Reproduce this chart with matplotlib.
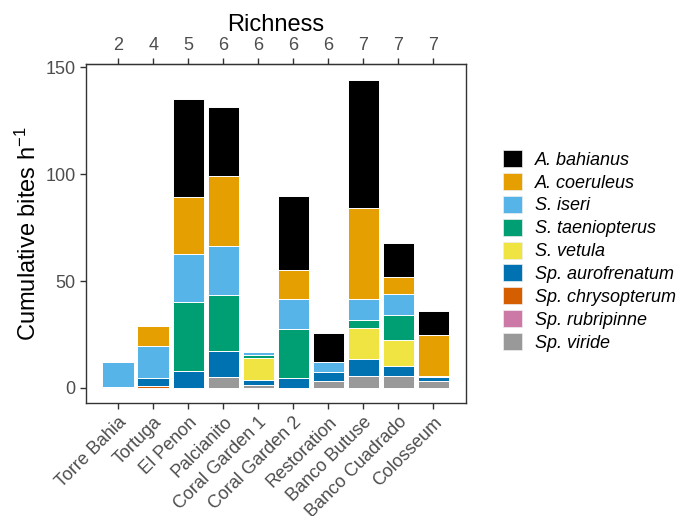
import matplotlib
matplotlib.use("Agg")
import matplotlib.pyplot as plt
from matplotlib.patches import Patch
import numpy as np

plt.rcParams['font.family'] = ['Liberation Sans', 'DejaVu Sans']
plt.rcParams['mathtext.fontset'] = 'custom'
plt.rcParams['mathtext.rm'] = 'Liberation Sans'
plt.rcParams['mathtext.it'] = 'Liberation Sans:italic'

sites = ["Torre Bahia", "Tortuga", "El Penon", "Palcianito", "Coral Garden 1",
         "Coral Garden 2", "Restoration", "Banco Butuse", "Banco Cuadrado", "Colosseum"]
richness = ["2", "4", "5", "6", "6", "6", "6", "7", "7", "7"]

# stacked from the bottom up
species = ["Sp. viride", "Sp. rubripinne", "Sp. chrysopterum", "Sp. aurofrenatum",
           "S. vetula", "S. taeniopterus", "S. iseri", "A. coeruleus", "A. bahianus"]
colors = ["#999999", "#CC79A7", "#D55E00", "#0072B2",
          "#F0E442", "#009E73", "#56B4E9", "#E69F00", "#000000"]

sp_viride = [0, 0, 0, 5.0, 1.2, 0, 3.3, 5.8, 5.8, 3.4]
sp_rubripinne = [0, 0, 0, 0, 0, 0, 0, 0, 0, 0]
sp_chrysopterum = [0, 1.0, 0, 0, 0, 0, 0, 0, 0, 0]
sp_aurofrenatum = [0.4, 3.5, 8.1, 12.3, 2.55, 4.7, 4.2, 7.8, 4.6, 1.6]
s_vetula = [0, 0, 0, 0, 10.15, 0, 0, 14.6, 12.0, 0]
s_taeniopterus = [0, 0, 32.1, 26.0, 1.6, 23.0, 0, 3.7, 11.7, 0]
s_iseri = [11.6, 15.1, 22.3, 23.2, 1.5, 13.7, 4.4, 9.8, 9.7, 0.7]
a_coeruleus = [0, 9.3, 26.9, 32.6, 0, 13.7, 0, 42.6, 8.1, 19.0]
a_bahianus = [0, 0, 46.0, 32.2, 0, 34.6, 14.0, 59.9, 15.7, 11.5]

values = [sp_viride, sp_rubripinne, sp_chrysopterum, sp_aurofrenatum,
          s_vetula, s_taeniopterus, s_iseri, a_coeruleus, a_bahianus]

fig = plt.figure(figsize=(6.81, 5.16), dpi=100)
ax = fig.add_axes([0.1263, 0.2184, 0.5580, 0.6576])

x = np.arange(len(sites))
bottom = np.zeros(len(sites))
for name, col, vals in zip(species, colors, values):
    vals = np.array(vals)
    ax.bar(x, vals, width=0.9, bottom=bottom, color=col,
           edgecolor="white", linewidth=0.7)
    bottom += vals

ax.set_xlim(-0.92, 9.93)
ax.set_ylim(-7.2, 151.6)
ax.set_yticks([0, 50, 100, 150])
ax.set_xticks(x)
ax.set_xticklabels(sites, rotation=45, ha="right", va="top",
                   rotation_mode="anchor")
ax.set_ylabel("Cumulative bites h$^{-1}$", fontsize=17, labelpad=3)

for sp in ax.spines.values():
    sp.set_color("#333333")
    sp.set_linewidth(1.0)
ax.tick_params(colors="#333333", labelcolor="#4D4D4D", labelsize=13,
               length=4.5, width=1.0, pad=3)

top = ax.secondary_xaxis("top")
top.set_xticks(x)
top.set_xticklabels(richness)
top.tick_params(colors="#333333", labelcolor="#4D4D4D", labelsize=13,
                length=4.5, width=1.0, pad=3)
top.set_xlabel("Richness", fontsize=17, labelpad=4)

# legend lists species top-down
handles = [Patch(facecolor=c, edgecolor="#eeeeee", linewidth=0.5)
           for c in colors[::-1]]
fig.legend(handles, species[::-1], loc="upper left",
           bbox_to_anchor=(0.7386, 0.7093), frameon=False,
           prop={"style": "italic", "size": 13},
           handlelength=1.07, handleheight=1.07, labelspacing=0.235,
           handletextpad=0.72, borderpad=0, borderaxespad=0)

fig.savefig("out.png", dpi=100)
